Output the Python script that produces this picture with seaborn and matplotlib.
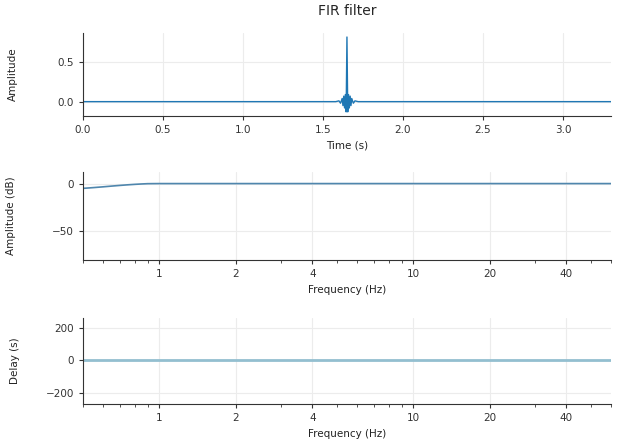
import matplotlib
matplotlib.use("Agg")
import matplotlib.pyplot as plt
import matplotlib.ticker as mticker
import seaborn as sns
import pandas as pd

# impulse response (time in s, amplitude)
imp_time = [0.0, 1.55, 1.58, 1.60, 1.61, 1.62, 1.625, 1.63, 1.635, 1.64, 1.645,
            1.65, 1.655, 1.66, 1.665, 1.67, 1.675, 1.68, 1.69, 1.70, 1.72, 1.75, 3.3]
imp_amp = [0.0, 0.0, 0.0, 0.01, -0.02, 0.04, -0.05, 0.07, -0.08, 0.09, -0.13,
           0.82, -0.13, 0.09, -0.08, 0.07, -0.05, 0.04, -0.02, 0.01, 0.0, 0.0, 0.0]

# magnitude response
mag_freq = [0.5, 0.55, 0.6, 0.65, 0.7, 0.75, 0.8, 0.85, 0.9, 1.0, 2.0, 10.0, 60.0]
mag_db = [-5.0, -4.2, -3.4, -2.6, -1.9, -1.3, -0.8, -0.4, -0.1, 0.0, 0.0, 0.0, 0.0]

# group delay
delay_freq = [0.5, 1.0, 10.0, 60.0]
delay_s = [0.0, 0.0, 0.0, 0.0]

freq_ticks = [1, 2, 4, 10, 20, 40]
time_ticks = [0.0, 0.5, 1.0, 1.5, 2.0, 2.5, 3.0]

sns.set_style("ticks")
plt.rcParams.update({
    "axes.grid": True,
    "grid.color": "#ececec",
    "grid.linewidth": 0.8,
    "axes.edgecolor": "#333333",
    "xtick.color": "#333333",
    "ytick.color": "#333333",
    "axes.labelcolor": "#222222",
    "font.size": 7.5,
})
plt.rcParams["font.family"] = ["DejaVu Sans"]

fig = plt.figure(figsize=(6.19, 4.47), dpi=100)
L, W = 0.134, 0.853
ax1 = fig.add_axes([L, 0.740, W, 0.186])
ax2 = fig.add_axes([L, 0.418, W, 0.197])
ax3 = fig.add_axes([L, 0.096, W, 0.193])

df_imp = pd.DataFrame({"t": imp_time, "a": imp_amp})
sns.lineplot(data=df_imp, x="t", y="a", ax=ax1, color="#1f77b4", lw=1.0, estimator=None)
ax1.set_xlim(0, 3.3)
ax1.set_ylim(-0.185, 0.87)
ax1.set_xticks(time_ticks)
ax1.set_yticks([0.0, 0.5])
ax1.set_xlabel("Time (s)", fontsize=7.5)
ax1.set_ylabel("Amplitude", fontsize=7.5)
ax1.set_title("FIR filter", fontsize=10, pad=13)

df_mag = pd.DataFrame({"f": mag_freq, "db": mag_db})
sns.lineplot(data=df_mag, x="f", y="db", ax=ax2, color="#4f86ad", lw=1.2, estimator=None)
df_del = pd.DataFrame({"f": delay_freq, "d": delay_s})
sns.lineplot(data=df_del, x="f", y="d", ax=ax3, color="#93bfd0", lw=2.0, estimator=None)

for ax in (ax2, ax3):
    ax.set_xscale("log")
    ax.set_xlim(0.5, 60)
    ax.set_xticks(freq_ticks)
    ax.xaxis.set_major_formatter(mticker.FixedFormatter([str(v) for v in freq_ticks]))
    ax.xaxis.set_minor_formatter(mticker.NullFormatter())
    ax.set_xlabel("Frequency (Hz)", fontsize=7.5)
    ax.grid(True, which="major")
    ax.grid(False, which="minor")

ax2.set_ylim(-80, 12)
ax2.set_yticks([-50, 0])
ax2.set_ylabel("Amplitude (dB)", fontsize=7.5)

ax3.set_ylim(-270, 262)
ax3.set_yticks([-200, 0, 200])
ax3.set_ylabel("Delay (s)", fontsize=7.5)

for ax, lx in ((ax1, -0.124), (ax2, -0.127), (ax3, -0.119)):
    sns.despine(ax=ax)
    ax.tick_params(labelsize=7.5, length=3, width=0.8)
    ax.tick_params(which="minor", length=2, width=0.6)
    ax.yaxis.set_label_coords(lx, 0.5)

fig.savefig("out.png", dpi=100)
